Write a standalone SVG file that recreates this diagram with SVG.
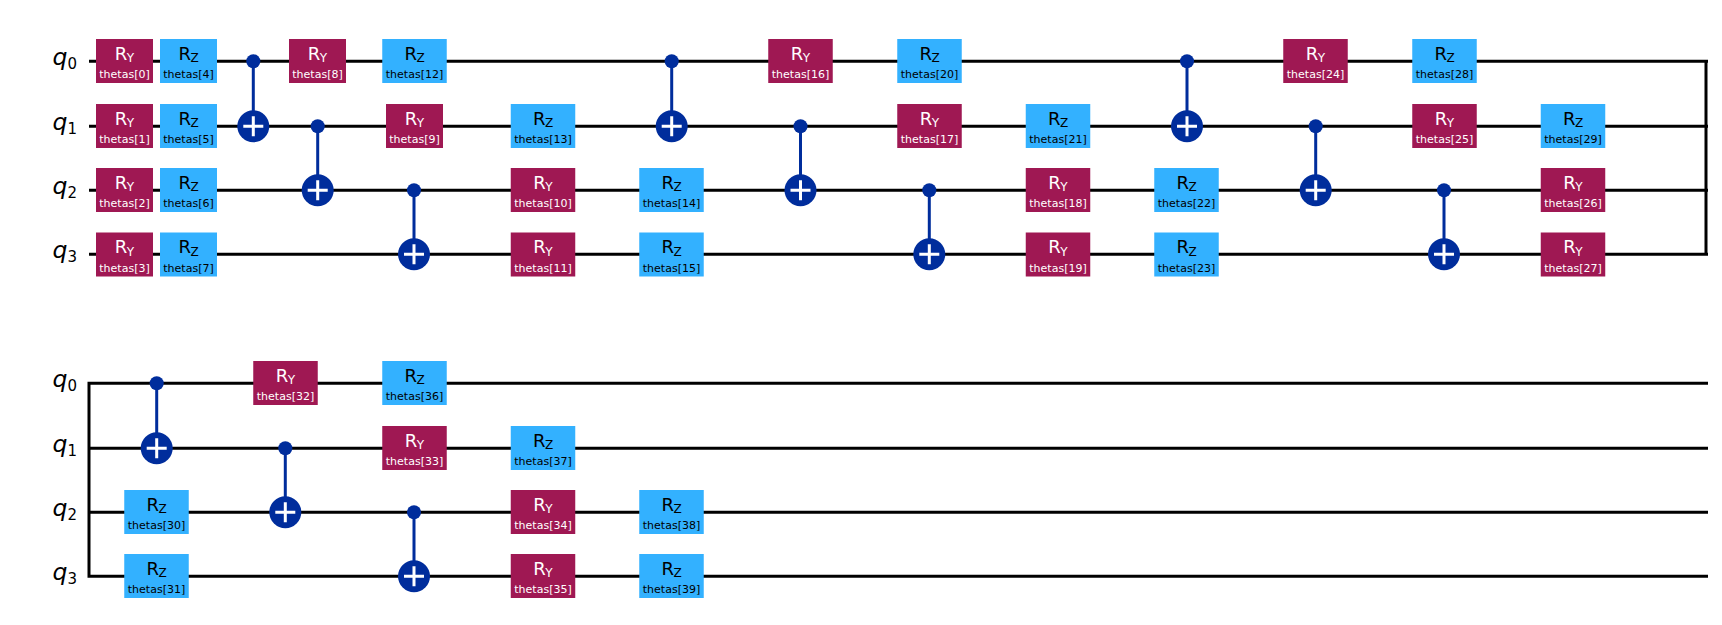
<svg xmlns="http://www.w3.org/2000/svg" width="1722" height="625" viewBox="0 0 1722 625">
<style>
text{font-family:"DejaVu Sans",sans-serif;text-anchor:middle}
.ry{fill:#9f1853}.ry text{fill:#fff}
.rz{fill:#33b1ff}.rz text{fill:#000}
.n{font-size:18px}.s{font-size:12px}.p{font-size:11px}
.w{stroke:#000;stroke-width:3;fill:none}
.c{stroke:#002d9c;stroke-width:3;fill:none}
.d{fill:#002d9c}
.x{fill:#002d9c}.x use{stroke:#fff;stroke-width:3;fill:none}
.q{font-family:"DejaVu Sans",sans-serif;font-size:23.5px;font-style:italic;fill:#000;text-anchor:end}
.q tspan{font-size:15px;font-style:normal}
</style>
<defs>
<rect id="a" x="-28.5" y="-22" width="57" height="44"/>
<rect id="b" x="-32.25" y="-22" width="64.5" height="44"/>
<path id="p" d="M-10 0H10M0-10V10"/>
</defs>
<g id="connectors">
<path class="w" d="M89 61.3H1708M89 126.3H1708M89 190.3H1708M89 254.3H1708M1706 59.8V255.8"/>
<path class="w" d="M89 383.3H1708M89 448.3H1708M89 512.3H1708M89 576.3H1708M89 381.8V577.8"/>
<path class="c" d="M253.3 61.3V126.3M317.7 126.3V190.3M414 190.3V254.3M671.7 61.3V126.3M800.5 126.3V190.3M929.3 190.3V254.3M1187 61.3V126.3M1315.7 126.3V190.3M1444 190.3V254.3"/>
<path class="c" d="M156.7 383.3V448.3M285.3 448.3V512.3M414 512.3V576.3"/>
</g>
<g id="labels">
<text class="q" x="77" y="65.3">q<tspan dy="4">0</tspan></text>
<text class="q" x="77" y="130.3">q<tspan dy="4">1</tspan></text>
<text class="q" x="77" y="194.3">q<tspan dy="4">2</tspan></text>
<text class="q" x="77" y="258.3">q<tspan dy="4">3</tspan></text>
<text class="q" x="77" y="387.3">q<tspan dy="4">0</tspan></text>
<text class="q" x="77" y="452.3">q<tspan dy="4">1</tspan></text>
<text class="q" x="77" y="516.3">q<tspan dy="4">2</tspan></text>
<text class="q" x="77" y="580.3">q<tspan dy="4">3</tspan></text>
</g>
<g id="t0" class="ry" transform="translate(124.5,61)"><use href="#a"/><text class="n" y="-1.2">R<tspan class="s" dx="-0.5" dy="2.5">Y</tspan></text><text class="p" y="17.3">thetas[0]</text></g>
<g id="t1" class="ry" transform="translate(124.5,126)"><use href="#a"/><text class="n" y="-1.2">R<tspan class="s" dx="-0.5" dy="2.5">Y</tspan></text><text class="p" y="17.3">thetas[1]</text></g>
<g id="t2" class="ry" transform="translate(124.5,190)"><use href="#a"/><text class="n" y="-1.2">R<tspan class="s" dx="-0.5" dy="2.5">Y</tspan></text><text class="p" y="17.3">thetas[2]</text></g>
<g id="t3" class="ry" transform="translate(124.5,254.5)"><use href="#a"/><text class="n" y="-1.2">R<tspan class="s" dx="-0.5" dy="2.5">Y</tspan></text><text class="p" y="17.3">thetas[3]</text></g>
<g id="t4" class="rz" transform="translate(188.5,61)"><use href="#a"/><text class="n" y="-1.2">R<tspan class="s" dx="-0.5" dy="2.5">Z</tspan></text><text class="p" y="17.3">thetas[4]</text></g>
<g id="t5" class="rz" transform="translate(188.5,126)"><use href="#a"/><text class="n" y="-1.2">R<tspan class="s" dx="-0.5" dy="2.5">Z</tspan></text><text class="p" y="17.3">thetas[5]</text></g>
<g id="t6" class="rz" transform="translate(188.5,190)"><use href="#a"/><text class="n" y="-1.2">R<tspan class="s" dx="-0.5" dy="2.5">Z</tspan></text><text class="p" y="17.3">thetas[6]</text></g>
<g id="t7" class="rz" transform="translate(188.5,254.5)"><use href="#a"/><text class="n" y="-1.2">R<tspan class="s" dx="-0.5" dy="2.5">Z</tspan></text><text class="p" y="17.3">thetas[7]</text></g>
<g id="t8" class="ry" transform="translate(317.5,61)"><use href="#a"/><text class="n" y="-1.2">R<tspan class="s" dx="-0.5" dy="2.5">Y</tspan></text><text class="p" y="17.3">thetas[8]</text></g>
<g id="t9" class="ry" transform="translate(414.5,126)"><use href="#a"/><text class="n" y="-1.2">R<tspan class="s" dx="-0.5" dy="2.5">Y</tspan></text><text class="p" y="17.3">thetas[9]</text></g>
<g id="t10" class="ry" transform="translate(543,190)"><use href="#b"/><text class="n" y="-1.2">R<tspan class="s" dx="-0.5" dy="2.5">Y</tspan></text><text class="p" y="17.3">thetas[10]</text></g>
<g id="t11" class="ry" transform="translate(543,254.5)"><use href="#b"/><text class="n" y="-1.2">R<tspan class="s" dx="-0.5" dy="2.5">Y</tspan></text><text class="p" y="17.3">thetas[11]</text></g>
<g id="t12" class="rz" transform="translate(414.5,61)"><use href="#b"/><text class="n" y="-1.2">R<tspan class="s" dx="-0.5" dy="2.5">Z</tspan></text><text class="p" y="17.3">thetas[12]</text></g>
<g id="t13" class="rz" transform="translate(543,126)"><use href="#b"/><text class="n" y="-1.2">R<tspan class="s" dx="-0.5" dy="2.5">Z</tspan></text><text class="p" y="17.3">thetas[13]</text></g>
<g id="t14" class="rz" transform="translate(671.5,190)"><use href="#b"/><text class="n" y="-1.2">R<tspan class="s" dx="-0.5" dy="2.5">Z</tspan></text><text class="p" y="17.3">thetas[14]</text></g>
<g id="t15" class="rz" transform="translate(671.5,254.5)"><use href="#b"/><text class="n" y="-1.2">R<tspan class="s" dx="-0.5" dy="2.5">Z</tspan></text><text class="p" y="17.3">thetas[15]</text></g>
<g id="t16" class="ry" transform="translate(800.5,61)"><use href="#b"/><text class="n" y="-1.2">R<tspan class="s" dx="-0.5" dy="2.5">Y</tspan></text><text class="p" y="17.3">thetas[16]</text></g>
<g id="t17" class="ry" transform="translate(929.5,126)"><use href="#b"/><text class="n" y="-1.2">R<tspan class="s" dx="-0.5" dy="2.5">Y</tspan></text><text class="p" y="17.3">thetas[17]</text></g>
<g id="t18" class="ry" transform="translate(1058,190)"><use href="#b"/><text class="n" y="-1.2">R<tspan class="s" dx="-0.5" dy="2.5">Y</tspan></text><text class="p" y="17.3">thetas[18]</text></g>
<g id="t19" class="ry" transform="translate(1058,254.5)"><use href="#b"/><text class="n" y="-1.2">R<tspan class="s" dx="-0.5" dy="2.5">Y</tspan></text><text class="p" y="17.3">thetas[19]</text></g>
<g id="t20" class="rz" transform="translate(929.5,61)"><use href="#b"/><text class="n" y="-1.2">R<tspan class="s" dx="-0.5" dy="2.5">Z</tspan></text><text class="p" y="17.3">thetas[20]</text></g>
<g id="t21" class="rz" transform="translate(1058,126)"><use href="#b"/><text class="n" y="-1.2">R<tspan class="s" dx="-0.5" dy="2.5">Z</tspan></text><text class="p" y="17.3">thetas[21]</text></g>
<g id="t22" class="rz" transform="translate(1186.5,190)"><use href="#b"/><text class="n" y="-1.2">R<tspan class="s" dx="-0.5" dy="2.5">Z</tspan></text><text class="p" y="17.3">thetas[22]</text></g>
<g id="t23" class="rz" transform="translate(1186.5,254.5)"><use href="#b"/><text class="n" y="-1.2">R<tspan class="s" dx="-0.5" dy="2.5">Z</tspan></text><text class="p" y="17.3">thetas[23]</text></g>
<g id="t24" class="ry" transform="translate(1315.5,61)"><use href="#b"/><text class="n" y="-1.2">R<tspan class="s" dx="-0.5" dy="2.5">Y</tspan></text><text class="p" y="17.3">thetas[24]</text></g>
<g id="t25" class="ry" transform="translate(1444.5,126)"><use href="#b"/><text class="n" y="-1.2">R<tspan class="s" dx="-0.5" dy="2.5">Y</tspan></text><text class="p" y="17.3">thetas[25]</text></g>
<g id="t26" class="ry" transform="translate(1573,190)"><use href="#b"/><text class="n" y="-1.2">R<tspan class="s" dx="-0.5" dy="2.5">Y</tspan></text><text class="p" y="17.3">thetas[26]</text></g>
<g id="t27" class="ry" transform="translate(1573,254.5)"><use href="#b"/><text class="n" y="-1.2">R<tspan class="s" dx="-0.5" dy="2.5">Y</tspan></text><text class="p" y="17.3">thetas[27]</text></g>
<g id="t28" class="rz" transform="translate(1444.5,61)"><use href="#b"/><text class="n" y="-1.2">R<tspan class="s" dx="-0.5" dy="2.5">Z</tspan></text><text class="p" y="17.3">thetas[28]</text></g>
<g id="t29" class="rz" transform="translate(1573,126)"><use href="#b"/><text class="n" y="-1.2">R<tspan class="s" dx="-0.5" dy="2.5">Z</tspan></text><text class="p" y="17.3">thetas[29]</text></g>
<g id="t30" class="rz" transform="translate(156.5,512)"><use href="#b"/><text class="n" y="-1.2">R<tspan class="s" dx="-0.5" dy="2.5">Z</tspan></text><text class="p" y="17.3">thetas[30]</text></g>
<g id="t31" class="rz" transform="translate(156.5,576)"><use href="#b"/><text class="n" y="-1.2">R<tspan class="s" dx="-0.5" dy="2.5">Z</tspan></text><text class="p" y="17.3">thetas[31]</text></g>
<g id="t32" class="ry" transform="translate(285.5,383)"><use href="#b"/><text class="n" y="-1.2">R<tspan class="s" dx="-0.5" dy="2.5">Y</tspan></text><text class="p" y="17.3">thetas[32]</text></g>
<g id="t33" class="ry" transform="translate(414.5,448)"><use href="#b"/><text class="n" y="-1.2">R<tspan class="s" dx="-0.5" dy="2.5">Y</tspan></text><text class="p" y="17.3">thetas[33]</text></g>
<g id="t34" class="ry" transform="translate(543,512)"><use href="#b"/><text class="n" y="-1.2">R<tspan class="s" dx="-0.5" dy="2.5">Y</tspan></text><text class="p" y="17.3">thetas[34]</text></g>
<g id="t35" class="ry" transform="translate(543,576)"><use href="#b"/><text class="n" y="-1.2">R<tspan class="s" dx="-0.5" dy="2.5">Y</tspan></text><text class="p" y="17.3">thetas[35]</text></g>
<g id="t36" class="rz" transform="translate(414.5,383)"><use href="#b"/><text class="n" y="-1.2">R<tspan class="s" dx="-0.5" dy="2.5">Z</tspan></text><text class="p" y="17.3">thetas[36]</text></g>
<g id="t37" class="rz" transform="translate(543,448)"><use href="#b"/><text class="n" y="-1.2">R<tspan class="s" dx="-0.5" dy="2.5">Z</tspan></text><text class="p" y="17.3">thetas[37]</text></g>
<g id="t38" class="rz" transform="translate(671.5,512)"><use href="#b"/><text class="n" y="-1.2">R<tspan class="s" dx="-0.5" dy="2.5">Z</tspan></text><text class="p" y="17.3">thetas[38]</text></g>
<g id="t39" class="rz" transform="translate(671.5,576)"><use href="#b"/><text class="n" y="-1.2">R<tspan class="s" dx="-0.5" dy="2.5">Z</tspan></text><text class="p" y="17.3">thetas[39]</text></g>
<g id="cx0"><circle class="d" cx="253.3" cy="61.3" r="7"/><g class="x" transform="translate(253.3,126.3)"><circle r="16"/><use href="#p"/></g></g>
<g id="cx1"><circle class="d" cx="317.7" cy="126.3" r="7"/><g class="x" transform="translate(317.7,190.3)"><circle r="16"/><use href="#p"/></g></g>
<g id="cx2"><circle class="d" cx="414" cy="190.3" r="7"/><g class="x" transform="translate(414,254.3)"><circle r="16"/><use href="#p"/></g></g>
<g id="cx3"><circle class="d" cx="671.7" cy="61.3" r="7"/><g class="x" transform="translate(671.7,126.3)"><circle r="16"/><use href="#p"/></g></g>
<g id="cx4"><circle class="d" cx="800.5" cy="126.3" r="7"/><g class="x" transform="translate(800.5,190.3)"><circle r="16"/><use href="#p"/></g></g>
<g id="cx5"><circle class="d" cx="929.3" cy="190.3" r="7"/><g class="x" transform="translate(929.3,254.3)"><circle r="16"/><use href="#p"/></g></g>
<g id="cx6"><circle class="d" cx="1187" cy="61.3" r="7"/><g class="x" transform="translate(1187,126.3)"><circle r="16"/><use href="#p"/></g></g>
<g id="cx7"><circle class="d" cx="1315.7" cy="126.3" r="7"/><g class="x" transform="translate(1315.7,190.3)"><circle r="16"/><use href="#p"/></g></g>
<g id="cx8"><circle class="d" cx="1444" cy="190.3" r="7"/><g class="x" transform="translate(1444,254.3)"><circle r="16"/><use href="#p"/></g></g>
<g id="cx9"><circle class="d" cx="156.7" cy="383.3" r="7"/><g class="x" transform="translate(156.7,448.3)"><circle r="16"/><use href="#p"/></g></g>
<g id="cx10"><circle class="d" cx="285.3" cy="448.3" r="7"/><g class="x" transform="translate(285.3,512.3)"><circle r="16"/><use href="#p"/></g></g>
<g id="cx11"><circle class="d" cx="414" cy="512.3" r="7"/><g class="x" transform="translate(414,576.3)"><circle r="16"/><use href="#p"/></g></g>
</svg>
